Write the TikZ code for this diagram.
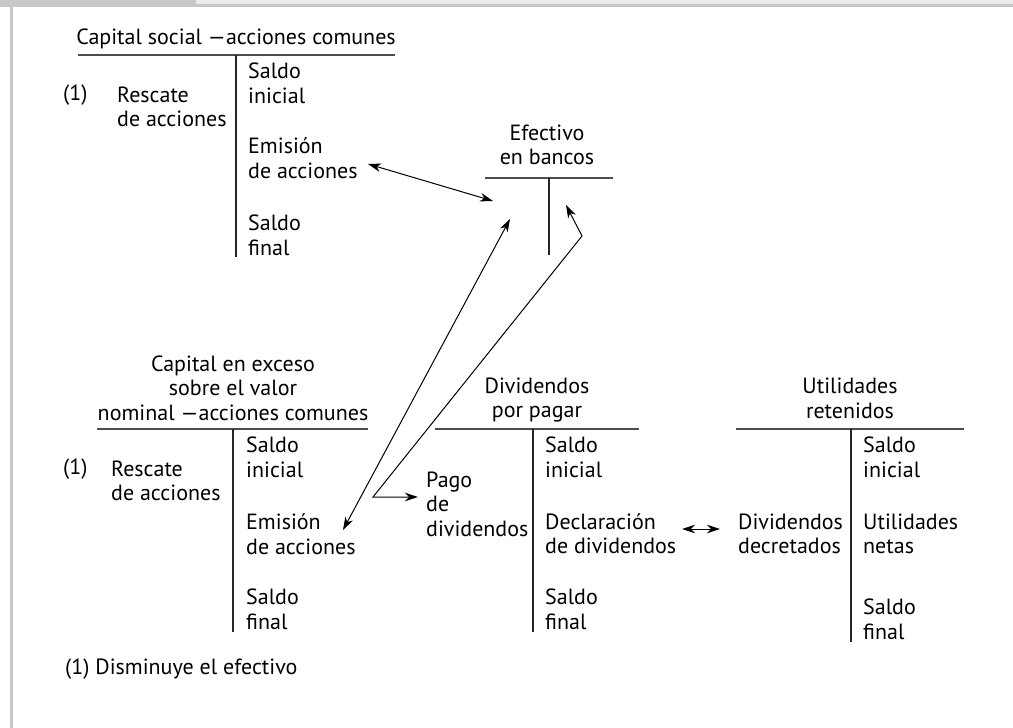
\documentclass[tikz,border=0pt]{standalone}
\usepackage{fontspec}
\setmainfont{PT Sans}
\usetikzlibrary{arrows.meta}
\newcommand\twoln[2]{\strut #1\\\strut #2}
\begin{document}
\begin{tikzpicture}[x=1pt,y=-1pt,
  >={Stealth[length=13pt,width=8.5pt,inset=4pt]},
  txt/.style={inner sep=0pt, font=\fontsize{22}{24.5}\selectfont, text=black, execute at begin node=\strut},
  ltxt/.style={txt, anchor=west, align=left},
  ctxt/.style={txt, align=center},
  hrule/.style={draw=black!70, line width=1.7pt},
  vrule/.style={draw=black!85, line width=1.4pt},
  conn/.style={draw=black, line width=1pt}]
\useasboundingbox (0,0) rectangle (1013,728);
% frame
\fill[black!8] (0,0) rectangle (1013,4);
\fill[black!22] (0,4) rectangle (1013,7);
\fill[black!22] (0,0) rectangle (196,7);
\fill[black!22] (10,7) rectangle (12.5,728);

% ---- Capital social
\node[ctxt] (cs-t) at (236,40) {Capital social —acciones comunes};
\coordinate (cs-hl) at (78,55); \coordinate (cs-hr) at (395,55);
\coordinate (cs-vt) at (236,55); \coordinate (cs-vb) at (236,257);
\draw[hrule] (cs-hl) -- (cs-hr);
\draw[vrule] (cs-vt) -- (cs-vb);
\node[ltxt] (cs-r1) at (248,86) {\twoln{Saldo}{inicial}};
\node[ltxt] (cs-r2) at (248,161) {\twoln{Emisión}{de acciones}};
\node[ltxt] (cs-r3) at (248,238) {\twoln{Saldo}{final}};
\node[ltxt] (cs-n) at (63,96) {(1)};
\node[ltxt] (cs-l1) at (117,109.5) {\twoln{Rescate}{de acciones}};

% ---- Efectivo en bancos
\node[ctxt] (ef-t) at (547,147.5) {\twoln{Efectivo}{en bancos}};
\coordinate (ef-hl) at (485,178); \coordinate (ef-hr) at (613,178);
\coordinate (ef-vt) at (549,178); \coordinate (ef-vb) at (549,255);
\draw[hrule] (ef-hl) -- (ef-hr);
\draw[vrule] (ef-vt) -- (ef-vb);

% ---- Capital en exceso
\node[ctxt] (ce-t) at (233,391) {\strut Capital en exceso\\\strut sobre el valor\\\strut nominal —acciones comunes};
\coordinate (ce-hl) at (97,429); \coordinate (ce-hr) at (368,429);
\coordinate (ce-vt) at (233,429); \coordinate (ce-vb) at (233,632);
\draw[hrule] (ce-hl) -- (ce-hr);
\draw[vrule] (ce-vt) -- (ce-vb);
\node[ltxt] (ce-r1) at (246,460) {\twoln{Saldo}{inicial}};
\node[ltxt] (ce-r2) at (246,537) {\twoln{Emisión}{de acciones}};
\node[ltxt] (ce-r3) at (246,612) {\twoln{Saldo}{final}};
\node[ltxt] (ce-n) at (63,470) {(1)};
\node[ltxt] (ce-l1) at (111,483.5) {\twoln{Rescate}{de acciones}};

% ---- Dividendos por pagar
\node[ctxt] (dp-t) at (537,400.5) {\twoln{Dividendos}{por pagar}};
\coordinate (dp-hl) at (435,429); \coordinate (dp-hr) at (639,429);
\coordinate (dp-vt) at (533,429); \coordinate (dp-vb) at (533,632);
\draw[hrule] (dp-hl) -- (dp-hr);
\draw[vrule] (dp-vt) -- (dp-vb);
\node[ltxt] (dp-r1) at (545,460) {\twoln{Saldo}{inicial}};
\node[ltxt] (dp-r2) at (545,536.5) {\twoln{Declaración}{de dividendos}};
\node[ltxt] (dp-r3) at (545,612) {\twoln{Saldo}{final}};
\node[ltxt] (dp-l1) at (426,507) {\strut Pago\\\strut de\\\strut dividendos};

% ---- Utilidades retenidos
\node[ctxt] (ur-t) at (850,401) {\twoln{Utilidades}{retenidos}};
\coordinate (ur-hl) at (736,429); \coordinate (ur-hr) at (964,429);
\coordinate (ur-vt) at (851,429); \coordinate (ur-vb) at (851,642);
\draw[hrule] (ur-hl) -- (ur-hr);
\draw[vrule] (ur-vt) -- (ur-vb);
\node[ltxt] (ur-r1) at (863,460) {\twoln{Saldo}{inicial}};
\node[ltxt] (ur-r2) at (863,536.5) {\twoln{Utilidades}{netas}};
\node[ltxt] (ur-r3) at (863,622) {\twoln{Saldo}{final}};
\node[ltxt] (ur-l1) at (738,536.5) {\twoln{Dividendos}{decretados}};

% ---- footnote
\node[ltxt] (fn) at (65,670) {(1) Disminuye el efectivo};

% ---- connectors
\coordinate (a1s) at (368,164); \coordinate (a1e) at (493,201);
\draw[conn, <->] (a1s) -- (a1e);
\coordinate (a2s) at (510,219); \coordinate (a2e) at (343,530);
\draw[conn, <->] (a2s) -- (a2e);
\coordinate (a3s) at (418,497); \coordinate (a3c) at (373,497);
\coordinate (a3k) at (582,236); \coordinate (a3e) at (566,205);
\draw[conn, <->] (a3s) -- (a3c) -- (a3k) -- (a3e);
\coordinate (a4s) at (682,529); \coordinate (a4e) at (720,529);
\draw[conn, <->] (a4s) -- (a4e);
\end{tikzpicture}
\end{document}
